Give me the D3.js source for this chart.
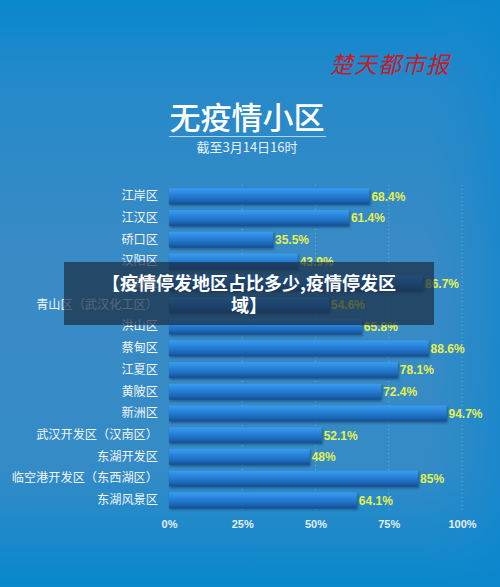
<!DOCTYPE html>
<html><head><meta charset="utf-8">
<script src="https://cdn.jsdelivr.net/npm/d3@7"></script>
<style>html,body{margin:0;padding:0;background:#2f8ac8;}svg{display:block;}</style>
</head><body>
<script>
const categories = ["江岸区","江汉区","硚口区","汉阳区","武昌区","青山区（武汉化工区）","洪山区","蔡甸区","江夏区","黄陂区","新洲区","武汉开发区（汉南区）","东湖开发区","临空港开发区（东西湖区）","东湖风景区"];
const values = [68.4,61.4,35.5,43.9,86.7,54.6,65.8,88.6,78.1,72.4,94.7,52.1,48,85,64.1];
const valueLabels = ["68.4%","61.4%","35.5%","43.9%","86.7%","54.6%","65.8%","88.6%","78.1%","72.4%","94.7%","52.1%","48%","85%","64.1%"];
const ticks = [0,25,50,75,100];
const tickLabels = ["0%","25%","50%","75%","100%"];
const title = "无疫情小区";
const subtitle = "截至3月14日16时";
const brand = "楚天都市报";
const overlayLines = ["【疫情停发地区占比多少,疫情停发区","域】"];

const W=500,H=587;
const svg=d3.select("body").append("svg").attr("width",W).attr("height",H);
const defs=svg.append("defs");
const bg=defs.append("linearGradient").attr("id","bg").attr("x1",0).attr("y1",0).attr("x2",0).attr("y2",1);
[[0,"#0a88ce"],[0.15,"#2689c9"],[0.45,"#3a8bc5"],[0.8,"#348bc6"],[0.92,"#1a89ca"],[1,"#0787cc"]].forEach(s=>bg.append("stop").attr("offset",s[0]).attr("stop-color",s[1]));
const bgr=defs.append("linearGradient").attr("id","bgr").attr("x1",0).attr("y1",0).attr("x2",1).attr("y2",0);
[[0,"#3a8cc4",0],[0.85,"#1a88cc",0],[1,"#0a86cf",0.6]].forEach(s=>bgr.append("stop").attr("offset",s[0]).attr("stop-color",s[1]).attr("stop-opacity",s[2]));
const bar=defs.append("linearGradient").attr("id","bar").attr("x1",0).attr("y1",0).attr("x2",0).attr("y2",1);
[[0,"#3a9cf0"],[0.35,"#2a86dc"],[0.75,"#1c68b8"],[1,"#134f94"]].forEach(s=>bar.append("stop").attr("offset",s[0]).attr("stop-color",s[1]));
const sh=defs.append("filter").attr("id","sh").attr("x","-5%").attr("y","-30%").attr("width","115%").attr("height","180%");
sh.append("feDropShadow").attr("dx",1).attr("dy",1.5).attr("stdDeviation",1.2).attr("flood-color","#0a2a50").attr("flood-opacity",0.55);

svg.append("rect").attr("width",W).attr("height",H).attr("fill","url(#bg)");
svg.append("rect").attr("width",W).attr("height",H).attr("fill","url(#bgr)");

const font="'Noto Sans CJK SC','Noto Sans',sans-serif";

// brand
svg.append("text").attr("x",390).attr("y",73).attr("text-anchor","middle")
 .attr("font-family","'Noto Sans CJK SC',serif").attr("font-size",23).attr("font-style","italic")
 .attr("fill","#c41c2a").attr("letter-spacing",1).text(brand);

// title
svg.append("text").attr("x",247).attr("y",129).attr("text-anchor","middle")
 .attr("font-family",font).attr("font-size",31).attr("font-weight",500).attr("fill","#ffffff").text(title);
svg.append("line").attr("x1",169).attr("x2",326).attr("y1",136.5).attr("y2",136.5).attr("stroke","#b8d4ec").attr("stroke-width",1);
svg.append("text").attr("x",247).attr("y",151.5).attr("text-anchor","middle")
 .attr("font-family",font).attr("font-size",13).attr("fill","#e8f0f8").text(subtitle);

const x=d3.scaleLinear().domain([0,100]).range([169,462]);
const y=d3.scaleBand().domain(categories).range([185.5,511]).paddingInner(0.27).paddingOuter(0.13);

// grid
svg.append("g").selectAll("line").data(ticks.slice(1)).join("line")
 .attr("x1",d=>x(d)).attr("x2",d=>x(d)).attr("y1",185).attr("y2",512)
 .attr("stroke","#8cbde0").attr("stroke-width",1).attr("stroke-dasharray","1,3").attr("opacity",0.7);

// bars
svg.append("g").selectAll("rect").data(values).join("rect")
 .attr("x",x(0)).attr("y",(d,i)=>y(categories[i])).attr("width",d=>x(d)-x(0)).attr("height",y.bandwidth())
 .attr("fill","url(#bar)").attr("filter","url(#sh)");

// value labels
svg.append("g").selectAll("text").data(values).join("text")
 .attr("x",d=>x(d)+2).attr("y",(d,i)=>y(categories[i])+y.bandwidth()/2+4.5)
 .attr("font-family","'Liberation Sans',Arial,sans-serif").attr("font-size",12).attr("font-weight","bold")
 .attr("fill","#e6f04c").text((d,i)=>valueLabels[i]);

// category axis labels
const yAxis=d3.axisLeft(y).tickSize(0).tickPadding(11);
const ga=svg.append("g").attr("transform",`translate(${x(0)},0)`).call(yAxis);
ga.select(".domain").remove();
ga.selectAll("text").attr("font-family",font).attr("font-size",12.2).attr("fill","#f2f6fa");

// x axis
const xAxis=d3.axisBottom(x).tickValues(ticks).tickFormat((d,i)=>tickLabels[i]).tickSize(0).tickPadding(0);
const gx=svg.append("g").attr("transform","translate(0,528)").call(xAxis);
gx.select(".domain").remove();
gx.selectAll("text").attr("font-family","'Liberation Sans',Arial,sans-serif").attr("font-size",11).attr("font-weight","bold").attr("fill","#e4eef8").attr("dy","0");

// overlay
svg.append("rect").attr("x",64).attr("y",262).attr("width",370).attr("height",63).attr("fill","#1c2e44").attr("opacity",0.72);
svg.append("g").selectAll("text").data(overlayLines).join("text")
 .attr("x",249).attr("y",(d,i)=>290+i*22).attr("text-anchor","middle")
 .attr("font-family",font).attr("font-size",18).attr("font-weight","bold").attr("fill","#ffffff").text(d=>d);
</script>
</body></html>
